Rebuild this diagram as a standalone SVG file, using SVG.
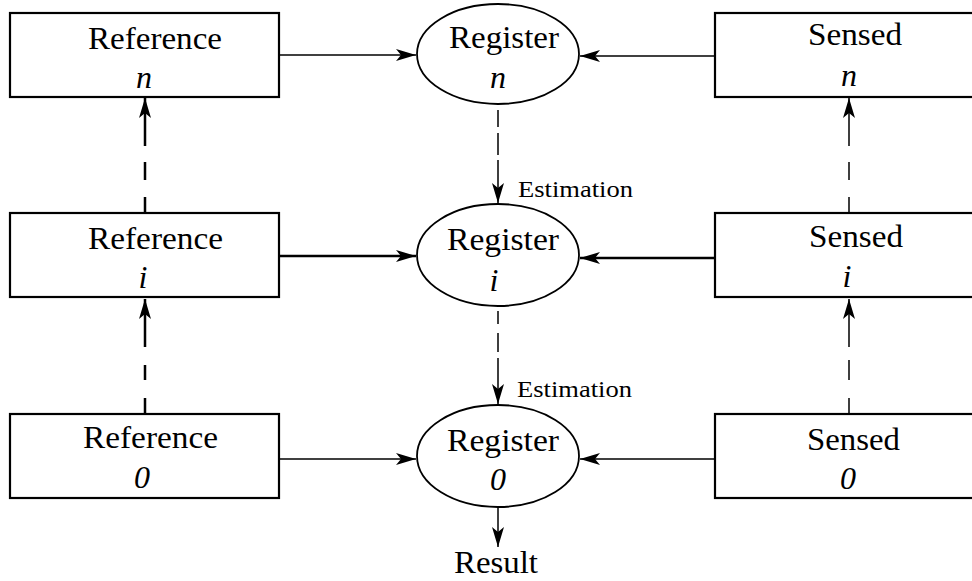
<svg xmlns="http://www.w3.org/2000/svg" width="972" height="581" viewBox="0 0 972 581">
<style>
.box{fill:#fff;stroke:#000;stroke-width:2.2}
.ell{fill:#fff;stroke:#000;stroke-width:1.8}
text{font-family:"Liberation Serif","Times New Roman",serif;fill:#000}
.lbl{font-size:31px;text-anchor:middle}
.var{font-size:32px;font-style:italic;text-anchor:middle}
.est{font-size:23px}
.c{fill:none;stroke:#000}
.thin{stroke-width:1.5}
.thick{stroke-width:2.5}
</style>
<defs>
<marker id="ah" viewBox="-21 -7 22 14" refX="0" refY="0" markerWidth="22" markerHeight="14" markerUnits="userSpaceOnUse" orient="auto">
<path d="M0,0 L-20,-6 L-15,0 L-20,6 Z" fill="#000"/>
</marker>
</defs>
<rect width="972" height="581" fill="#fff"/>
<g id="connectors">
<path class="c thin" d="M279,55 H416" marker-end="url(#ah)"/>
<path class="c thin" d="M715,56 H580" marker-end="url(#ah)"/>
<path class="c thick" d="M279,256 H416" marker-end="url(#ah)"/>
<path class="c thick" d="M715,258 H580" marker-end="url(#ah)"/>
<path class="c thin" d="M279,459 H416" marker-end="url(#ah)"/>
<path class="c thin" d="M715,459 H580" marker-end="url(#ah)"/>
<path class="c thick" d="M145,213 V98" stroke-dasharray="16 17 18 16 100" marker-end="url(#ah)"/>
<path class="c thick" d="M145,414 V299" stroke-dasharray="16 18 15 18 100" marker-end="url(#ah)"/>
<path class="c thin" d="M849,213 V98" stroke-dasharray="16 17 18 16 100" marker-end="url(#ah)"/>
<path class="c thin" d="M849,414 V299" stroke-dasharray="16 18 20 13 100" marker-end="url(#ah)"/>
<path class="c thin" d="M498,110 V203" stroke-dasharray="17 6 22 5 100" marker-end="url(#ah)"/>
<path class="c thin" d="M498,311 V404" stroke-dasharray="13 9 19 6 100" marker-end="url(#ah)"/>
<path class="c thin" d="M498,507 V547" marker-end="url(#ah)"/>
<text class="est" x="518" y="197" textLength="115" lengthAdjust="spacingAndGlyphs">Estimation</text>
<text class="est" x="517" y="397" textLength="115" lengthAdjust="spacingAndGlyphs">Estimation</text>
<text class="lbl" x="496" y="573" textLength="84" lengthAdjust="spacingAndGlyphs">Result</text>
</g>
<g id="ref-n">
<rect class="box" x="10" y="13" width="269" height="84"/>
<text class="lbl" x="155" y="49" textLength="134" lengthAdjust="spacingAndGlyphs">Reference</text>
<text class="var" x="144" y="88">n</text>
</g>
<g id="ref-i">
<rect class="box" x="10" y="213" width="269" height="84"/>
<text class="lbl" x="155.5" y="249" textLength="135" lengthAdjust="spacingAndGlyphs">Reference</text>
<text class="var" x="143" y="288">i</text>
</g>
<g id="ref-0">
<rect class="box" x="10" y="414" width="269" height="84"/>
<text class="lbl" x="150.5" y="448" textLength="135" lengthAdjust="spacingAndGlyphs">Reference</text>
<text class="var" x="142" y="488">0</text>
</g>
<g id="reg-n">
<ellipse class="ell" cx="498" cy="54" rx="81" ry="50"/>
<text class="lbl" x="504" y="48" textLength="110" lengthAdjust="spacingAndGlyphs">Register</text>
<text class="var" x="498" y="88">n</text>
</g>
<g id="reg-i">
<ellipse class="ell" cx="498" cy="255" rx="81" ry="51"/>
<text class="lbl" x="503" y="250" textLength="112" lengthAdjust="spacingAndGlyphs">Register</text>
<text class="var" x="494" y="291">i</text>
</g>
<g id="reg-0">
<ellipse class="ell" cx="498" cy="456" rx="81" ry="51"/>
<text class="lbl" x="503" y="451" textLength="112" lengthAdjust="spacingAndGlyphs">Register</text>
<text class="var" x="498" y="490">0</text>
</g>
<g id="sensed-n">
<rect class="box" x="715" y="13" width="270" height="84"/>
<text class="lbl" x="855" y="45" textLength="94" lengthAdjust="spacingAndGlyphs">Sensed</text>
<text class="var" x="849" y="86">n</text>
</g>
<g id="sensed-i">
<rect class="box" x="715" y="213" width="270" height="84"/>
<text class="lbl" x="856" y="247" textLength="94" lengthAdjust="spacingAndGlyphs">Sensed</text>
<text class="var" x="847" y="287">i</text>
</g>
<g id="sensed-0">
<rect class="box" x="715" y="414" width="270" height="84"/>
<text class="lbl" x="853.5" y="450" textLength="93" lengthAdjust="spacingAndGlyphs">Sensed</text>
<text class="var" x="848" y="489">0</text>
</g>
</svg>
